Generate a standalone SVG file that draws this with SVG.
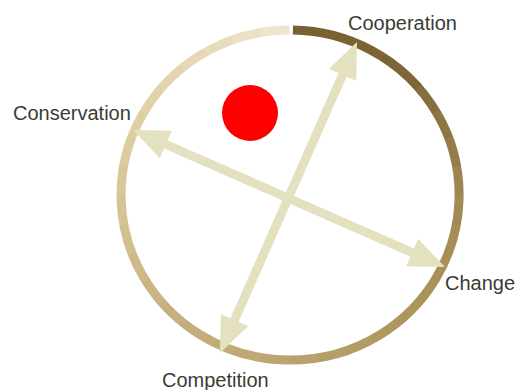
<svg xmlns="http://www.w3.org/2000/svg" width="517" height="390" viewBox="0 0 517 390">
  <style>
    .label { font-family: "Liberation Sans", Arial, sans-serif; font-size: 20px; fill: #3b3b33; }
    .arrow { stroke: #e4e1c1; stroke-width: 9; fill: none; marker-start: url(#head); marker-end: url(#head); }
    .w { shape-rendering: crispEdges; }
  </style>
  <defs>
    <marker id="head" markerUnits="userSpaceOnUse" markerWidth="36" markerHeight="30" viewBox="0 0 36 30" refX="21" refY="15" orient="auto-start-reverse">
      <path d="M0,0 L36,15 L0,30 z" fill="#e4e1c1"/>
    </marker>
    <mask id="ringMask" maskUnits="userSpaceOnUse" x="0" y="0" width="517" height="390">
      <path d="M291.9,31.02 A169,165 0 1 1 288.1,31" fill="none" stroke="#fff" stroke-width="9"/>
    </mask>
  </defs>
  <rect width="517" height="390" fill="#ffffff"/>

  <g id="ring" mask="url(#ringMask)" transform="translate(1,-1)">
    <polygon class="w" fill="#776130" points="288,197 288,-53 331.4,-49.2"/>
    <polygon class="w" fill="#796232" points="288,197 331.4,-49.2 373.5,-37.9"/>
    <polygon class="w" fill="#7a6333" points="288,197 373.5,-37.9 413,-19.5"/>
    <polygon class="w" fill="#7c6535" points="288,197 413,-19.5 448.7,5.5"/>
    <polygon class="w" fill="#7e6637" points="288,197 448.7,5.5 479.5,36.3"/>
    <polygon class="w" fill="#866e3d" points="288,197 479.5,36.3 504.5,72"/>
    <polygon class="w" fill="#8d7643" points="288,197 504.5,72 522.9,111.5"/>
    <polygon class="w" fill="#957d49" points="288,197 522.9,111.5 534.2,153.6"/>
    <polygon class="w" fill="#9c854f" points="288,197 534.2,153.6 538,197"/>
    <polygon class="w" fill="#a18a53" points="288,197 538,197 534.2,240.4"/>
    <polygon class="w" fill="#a48d56" points="288,197 534.2,240.4 522.9,282.5"/>
    <polygon class="w" fill="#a79058" points="288,197 522.9,282.5 504.5,322"/>
    <polygon class="w" fill="#a9935b" points="288,197 504.5,322 479.5,357.7"/>
    <polygon class="w" fill="#ac965d" points="288,197 479.5,357.7 448.7,388.5"/>
    <polygon class="w" fill="#af9961" points="288,197 448.7,388.5 413,413.5"/>
    <polygon class="w" fill="#b29c65" points="288,197 413,413.5 373.5,431.9"/>
    <polygon class="w" fill="#b59f68" points="288,197 373.5,431.9 331.4,443.2"/>
    <polygon class="w" fill="#b8a26c" points="288,197 331.4,443.2 288,447"/>
    <polygon class="w" fill="#bba570" points="288,197 288,447 244.6,443.2"/>
    <polygon class="w" fill="#bea873" points="288,197 244.6,443.2 202.5,431.9"/>
    <polygon class="w" fill="#c1ab77" points="288,197 202.5,431.9 163,413.5"/>
    <polygon class="w" fill="#c3ad7a" points="288,197 163,413.5 127.3,388.5"/>
    <polygon class="w" fill="#c6b07e" points="288,197 127.3,388.5 96.5,357.7"/>
    <polygon class="w" fill="#cab583" points="288,197 96.5,357.7 71.5,322"/>
    <polygon class="w" fill="#ceba89" points="288,197 71.5,322 53.1,282.5"/>
    <polygon class="w" fill="#d1bf8e" points="288,197 53.1,282.5 41.8,240.4"/>
    <polygon class="w" fill="#d5c493" points="288,197 41.8,240.4 38,197"/>
    <polygon class="w" fill="#d8c899" points="288,197 38,197 41.8,153.6"/>
    <polygon class="w" fill="#dbcb9e" points="288,197 41.8,153.6 53.1,111.5"/>
    <polygon class="w" fill="#decea3" points="288,197 53.1,111.5 71.5,72"/>
    <polygon class="w" fill="#e0d1a9" points="288,197 71.5,72 96.5,36.3"/>
    <polygon class="w" fill="#e3d4ae" points="288,197 96.5,36.3 127.3,5.5"/>
    <polygon class="w" fill="#e6d8b6" points="288,197 127.3,5.5 163,-19.5"/>
    <polygon class="w" fill="#e9dcbe" points="288,197 163,-19.5 202.5,-37.9"/>
    <polygon class="w" fill="#ece0c6" points="288,197 202.5,-37.9 244.6,-49.2"/>
    <polygon class="w" fill="#efe4ce" points="288,197 244.6,-49.2 288,-53"/>
  </g>

  <g id="connectors">
    <line class="arrow" x1="350.95" y1="55.73" x2="226.05" y2="339.27"/>
    <line class="arrow" x1="146.7" y1="136" x2="431.3" y2="261"/>
  </g>

  <g id="dot">
    <circle cx="250" cy="113" r="28" fill="#ff0000"/>
  </g>

  <g id="cooperation"><text class="label" x="348" y="30">Cooperation</text></g>
  <g id="conservation"><text class="label" x="13" y="120">Conservation</text></g>
  <g id="change"><text class="label" x="445" y="290">Change</text></g>
  <g id="competition"><text class="label" x="162" y="387">Competition</text></g>
</svg>
